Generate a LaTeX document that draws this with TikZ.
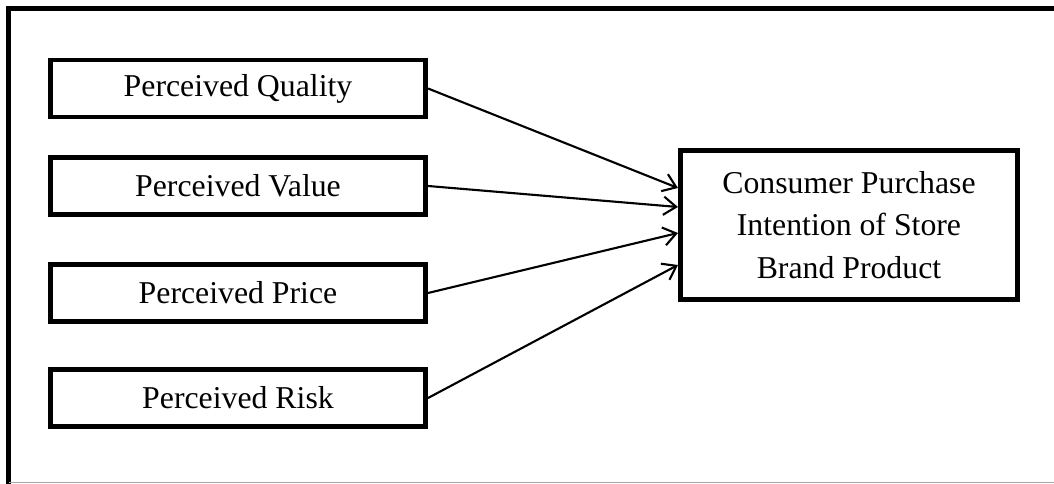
\documentclass[tikz,border=0pt]{standalone}
\usepackage{fontspec}
\setmainfont{Liberation Serif}
\usetikzlibrary{positioning,calc,arrows.meta}

\begin{document}
\begin{tikzpicture}[
    x=0.025cm, y=-0.025cm,
    box/.style={draw, rectangle, line width=3.4pt, minimum width=9.38cm, minimum height=1.42cm, inner sep=0pt, font=\fontsize{22.6}{30}\selectfont},
    bigbox/.style={draw, rectangle, line width=3.4pt, minimum width=8.43cm, minimum height=3.73cm, inner sep=0pt, align=center, font=\fontsize{22.6}{30}\selectfont},
    arrow/.style={-{Straight Barb[length=9pt, width=13pt, line width=1.5pt]}, line width=1.5pt},
    frame/.style={line width=3.6pt}
]
\useasboundingbox (0,0) rectangle (1054,484);

% Frame
\draw[frame] (8.5,484) -- (8.5,8.5) -- (1054,8.5);
\draw[gray!70, line width=0.8pt] (8.5,482.5) -- (1054,482.5);

% Factors
\node[box] (PQ) at (238,88.5) {Perceived Quality};
\node[box] (PV) at (238,186) {Perceived Value};
\node[box] (PP) at (238,293) {Perceived Price};
\node[box] (PR) at (238,398) {Perceived Risk};

% Purchase intention
\node[bigbox] (CPI) at (849,225) {Consumer Purchase\\Intention of Store\\Brand Product};

% Entry points
\coordinate (inQ) at ($(CPI.west)+(0,-37)$);
\coordinate (inV) at ($(CPI.west)+(0,-18)$);
\coordinate (inP) at ($(CPI.west)+(0,8)$);
\coordinate (inR) at ($(CPI.west)+(0,40)$);

% Arrows
\draw[arrow] (PQ.east) -- (inQ);
\draw[arrow] (PV.east) -- (inV);
\draw[arrow] (PP.east) -- (inP);
\draw[arrow] (PR.east) -- (inR);

\end{tikzpicture}
\end{document}
